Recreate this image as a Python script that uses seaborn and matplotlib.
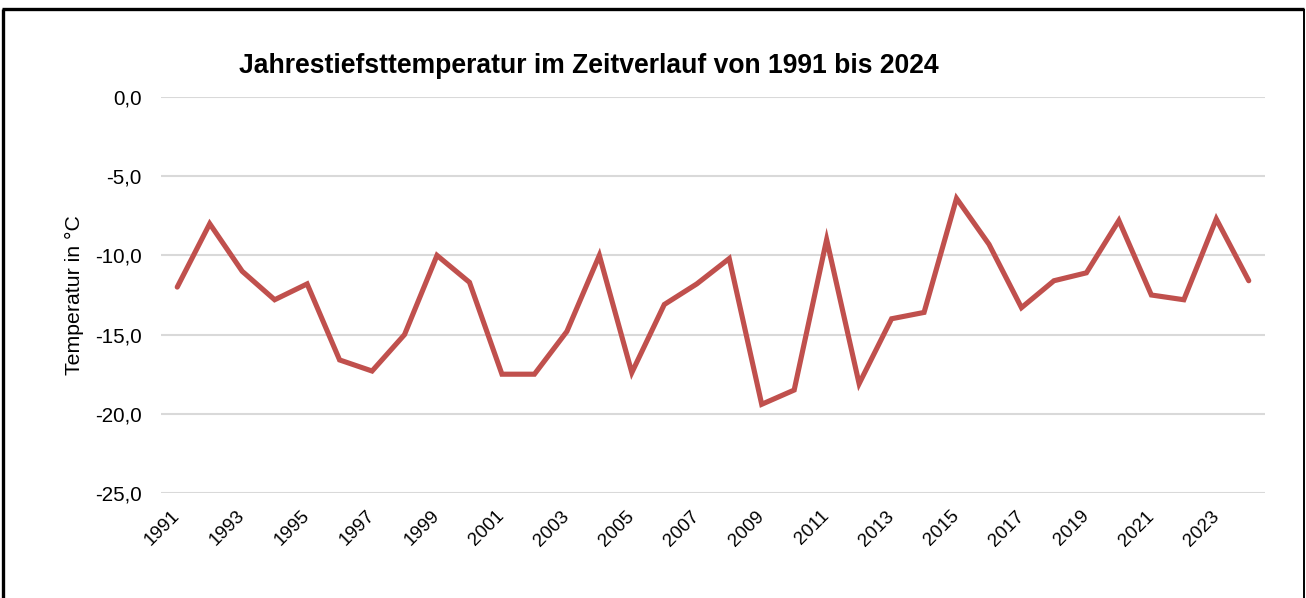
import matplotlib
matplotlib.use("Agg")
import matplotlib.pyplot as plt
from matplotlib.lines import Line2D
from matplotlib.ticker import FuncFormatter, FixedLocator
from matplotlib.transforms import ScaledTranslation
import seaborn as sns
import pandas as pd

# Annual minimum temperature, 1991-2024
years = list(range(1991, 2025))
min_temp = [-12.0, -8.0, -11.0, -12.8, -11.8, -16.6, -17.3, -15.0, -10.0, -11.7,
            -17.5, -17.5, -14.8, -10.0, -17.4, -13.1, -11.8, -10.2, -19.4, -18.5,
            -9.0, -18.1, -14.0, -13.6, -6.4, -9.3, -13.3, -11.6, -11.1, -7.8,
            -12.5, -12.8, -7.7, -11.6]
y_ticks = [0, -5, -10, -15, -20, -25]
x_tick_years = list(range(1991, 2025, 2))

title = "Jahrestiefsttemperatur im Zeitverlauf von 1991 bis 2024"
y_label = "Temperatur in °C"

df = pd.DataFrame({"Jahr": years, "Temperatur": min_temp})

sns.set_theme(style="white")
plt.rcParams["font.family"] = ["Liberation Sans", "DejaVu Sans"]

W, H = 1306, 598
fig = plt.figure(figsize=(W / 100, H / 100), dpi=100)
fig.patch.set_facecolor("white")

left, right, top, bottom = 161, 1265, 97, 493
ax = fig.add_axes([left / W, 1 - bottom / H, (right - left) / W, (bottom - top) / H])

sns.lineplot(data=df, x="Jahr", y="Temperatur", ax=ax, color="#C0504D",
             linewidth=3.7, solid_joinstyle="miter", solid_capstyle="round",
             zorder=3)

ax.set_xlim(years[0] - 0.5, years[-1] + 0.5)
ax.set_ylim(-25, 0)
ax.yaxis.set_major_locator(FixedLocator(y_ticks))
ax.yaxis.set_major_formatter(FuncFormatter(lambda v, p: f"{v:.1f}".replace(".", ",")))
ax.xaxis.set_major_locator(FixedLocator(x_tick_years))
ax.set_xticklabels([str(y) for y in x_tick_years])

ax.grid(axis="y", color="#D9D9D9", linewidth=1.5)
ax.grid(axis="x", visible=False)
for s in ax.spines.values():
    s.set_visible(False)

ax.tick_params(axis="y", length=0, pad=14, labelsize=14.8, labelcolor="#000000")
ax.tick_params(axis="x", length=0, pad=4, labelsize=13.6, labelcolor="#000000")
shift = ScaledTranslation(-6 / 100, -9 / 100, fig.dpi_scale_trans)
for lbl in ax.get_xticklabels():
    lbl.set_rotation(45)
    lbl.set_ha("right")
    lbl.set_va("top")
    lbl.set_rotation_mode("anchor")
    lbl.set_transform(lbl.get_transform() + shift)

ax.set_xlabel("")
ax.set_ylabel(y_label, fontsize=15.3, color="#000000")
ax.yaxis.set_label_coords((74 - left) / (right - left), 0.5)
ax.yaxis.label.set_va("center")

fig.text(589 / W, 1 - 73 / H, title, ha="center", va="baseline",
         fontsize=19.1, fontweight="bold", color="#000000")

# outer frame around the chart
frame = dict(color="black", transform=None, solid_capstyle="butt")
fig.add_artist(Line2D([2, W - 2], [H - 9, H - 9], linewidth=2.4, **frame))
fig.add_artist(Line2D([3, 3], [H - 9, 0], linewidth=2.4, **frame))
fig.add_artist(Line2D([W - 2, W - 2], [H - 9, 0], linewidth=1.4, **frame))

fig.savefig("out.png", dpi=100)
